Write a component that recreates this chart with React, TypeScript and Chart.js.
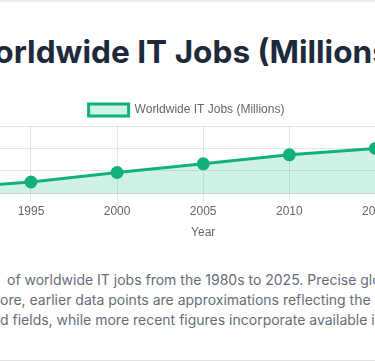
import React, { useEffect, useRef } from "react";
import { Chart, registerables } from "chart.js";

Chart.register(...registerables);

const years = ["1985", "1990", "1995", "2000", "2005", "2010", "2015", "2020", "2025"];
const itJobs = [2, 4.5, 10, 18.5, 26.2, 34.3, 40, 47, 55];
const yTicks = { min: 0, max: 60, step: 20 };

const titleText = "Worldwide IT Jobs (Millions)";
const seriesLabel = "Worldwide IT Jobs (Millions)";
const xTitle = "Year";
const yTitle = "Jobs (Millions)";

const descLines: [string, string][] = [
  ["This chart illustrates the estimated growth ", "of worldwide IT jobs from the 1980s to 2025. Precise global figures are difficult to obtain;"],
  ["Theref", "ore, earlier data points are approximations reflecting the rapid expansion of computing"],
  ["and relate", "d fields, while more recent figures incorporate available industry reports."],
];

const CANVAS_LEFT = -191;
const CANVAS_TOP = 94;
const CANVAS_W = 755;
const CANVAS_H = 150;

export default function App() {
  const ref = useRef<HTMLCanvasElement | null>(null);

  useEffect(() => {
    if (!ref.current) return;
    const chart = new Chart(ref.current, {
      type: "line",
      data: {
        labels: years,
        datasets: [
          {
            label: seriesLabel,
            data: itJobs,
            borderColor: "#12b07c",
            backgroundColor: "rgba(16,185,129,0.2)",
            pointBackgroundColor: "#12b07c",
            pointBorderColor: "#12b07c",
            borderWidth: 3,
            pointRadius: 5,
            fill: "origin",
            tension: 0,
          },
        ],
      },
      options: {
        responsive: false,
        animation: false,
        plugins: {
          legend: { display: true, position: "top" },
          title: { display: false },
        },
        scales: {
          x: {
            title: { display: true, text: xTitle, padding: { top: 4, bottom: 4 } },
          },
          y: {
            min: yTicks.min,
            max: yTicks.max,
            ticks: { stepSize: yTicks.step },
            title: { display: true, text: yTitle },
          },
        },
      },
    });
    return () => chart.destroy();
  }, []);

  return (
    <div style={{ position: "fixed", inset: 0, background: "#fff", overflow: "hidden" }}>
      <div style={{ position: "absolute", left: 0, top: 0, width: "100%", height: 2, background: "#e9edf2" }} />
      <div
        style={{
          position: "absolute",
          left: -317.5,
          width: 1000,
          top: 31.5,
          textAlign: "center",
          fontFamily: "Inter, sans-serif",
          fontWeight: 700,
          fontSize: 31.6,
          lineHeight: "40px",
          color: "#1e293b",
          whiteSpace: "nowrap",
        }}
      >
        {titleText}
      </div>
      <canvas
        ref={ref}
        width={CANVAS_W}
        height={CANVAS_H}
        style={{ position: "absolute", left: CANVAS_LEFT, top: CANVAS_TOP, width: CANVAS_W, height: CANVAS_H }}
      />
      {descLines.map((ln, i) => (
        <div
          key={i}
          style={{
            position: "absolute",
            left: i === 0 ? 7 : 0,
            top: 270 + i * 20,
            fontFamily: "Inter, sans-serif",
            fontSize: 14,
            lineHeight: "20px",
            color: "#666d79",
            whiteSpace: "nowrap",
          }}
        >
          <span style={{ position: "absolute", right: "100%", whiteSpace: "pre", paddingRight: i === 0 ? 4 : 0 }}>{ln[0]}</span>
          {ln[1]}
        </div>
      ))}
      <div style={{ position: "absolute", left: 0, top: 360, width: "100%", height: 1, background: "#e2e2e2" }} />
    </div>
  );
}
